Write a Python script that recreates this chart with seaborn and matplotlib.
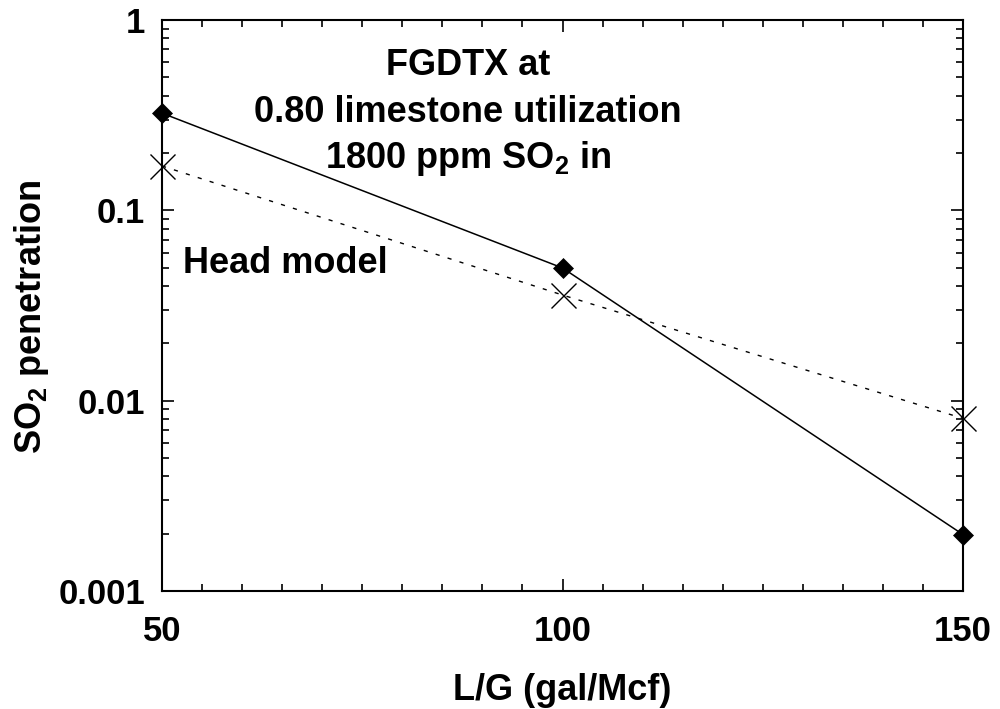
import matplotlib
matplotlib.use("Agg")
import matplotlib.pyplot as plt
import matplotlib.ticker as mticker
import seaborn as sns
import pandas as pd

lg = [50, 100, 150]
fgdtx = [0.324, 0.0498, 0.00198]
head = [0.171, 0.0359, 0.00807]
ytick_vals = [0.001, 0.01, 0.1, 1]
ytick_labels = ["0.001", "0.01", "0.1", "1"]
xtick_vals = [50, 100, 150]

sns.set_style("ticks")
plt.rcParams['font.family'] = ['Liberation Sans', 'DejaVu Sans']
plt.rcParams['font.weight'] = 'bold'
plt.rcParams['text.color'] = 'black'
plt.rcParams['axes.labelcolor'] = 'black'
plt.rcParams['xtick.color'] = 'black'
plt.rcParams['ytick.color'] = 'black'
plt.rcParams['mathtext.fontset'] = 'custom'
plt.rcParams['mathtext.rm'] = 'Liberation Sans:bold'
plt.rcParams['mathtext.bf'] = 'Liberation Sans:bold'
plt.rcParams['mathtext.it'] = 'Liberation Sans:bold'

fig = plt.figure(figsize=(10, 7.09), dpi=100)
ax = fig.add_axes([0.162, 0.1664, 0.801, 0.8054])

df1 = pd.DataFrame({"x": lg, "y": fgdtx})
df2 = pd.DataFrame({"x": lg, "y": head})
sns.lineplot(data=df1, x="x", y="y", ax=ax, color="black", lw=1.1,
             marker="D", markersize=10, markeredgecolor="black", markeredgewidth=0.5,
             clip_on=False)
sns.lineplot(data=df2, x="x", y="y", ax=ax, color="black", lw=1.0,
             linestyle=(0, (3, 6)), marker="x", markersize=18, markeredgewidth=1.0,
             markeredgecolor="black", clip_on=False)

ax.set_yscale("log")
ax.set_xlim(50, 150)
ax.set_ylim(0.001, 1)
ax.set_xticks(xtick_vals)
ax.set_xticklabels([str(v) for v in xtick_vals])
ax.xaxis.set_minor_locator(mticker.MultipleLocator(5))
ax.set_yticks(ytick_vals)
ax.set_yticklabels(ytick_labels)
ax.yaxis.set_minor_locator(mticker.LogLocator(base=10, subs=range(2, 10), numticks=20))
ax.yaxis.set_minor_formatter(mticker.NullFormatter())

ax.tick_params(which="both", direction="in", top=True, right=True, width=1.2, color="black")
ax.tick_params(which="major", length=8.6, labelsize=25)
ax.tick_params(axis="x", which="major", pad=17)
ax.tick_params(axis="y", which="major", pad=12)
ax.tick_params(which="minor", length=5)
for lab in ax.get_xticklabels() + ax.get_yticklabels():
    lab.set_fontweight("bold")
for s in ax.spines.values():
    s.set_linewidth(1.5)
    s.set_color("black")

ax.set_xlabel("L/G (gal/Mcf)", fontsize=26, fontweight="bold")
ax.set_ylabel("SO$_\\mathbf{2}$ penetration", fontsize=26, fontweight="bold")
ax.xaxis.set_label_coords(0.5, -0.1436)
ax.yaxis.set_label_coords(-0.1386, 0.48)

cx = 0.382
ax.text(cx, 0.9037, "FGDTX at", transform=ax.transAxes, ha="center", va="baseline",
        fontsize=26, fontweight="bold")
ax.text(cx, 0.8214, "0.80 limestone utilization", transform=ax.transAxes, ha="center",
        va="baseline", fontsize=26, fontweight="bold")
ax.text(cx, 0.7408, "1800 ppm SO$_\\mathbf{2}$ in", transform=ax.transAxes, ha="center",
        va="baseline", fontsize=26, fontweight="bold")
ax.text(0.0262, 0.5569, "Head model", transform=ax.transAxes, ha="left", va="baseline",
        fontsize=26, fontweight="bold")

fig.savefig("out.png", dpi=100)
